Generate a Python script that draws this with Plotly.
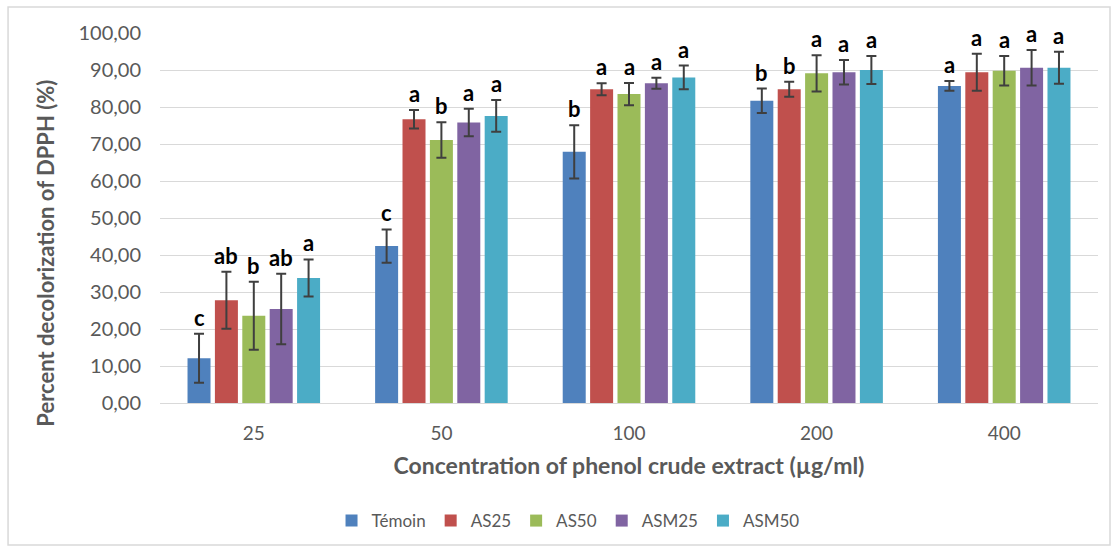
import plotly.graph_objects as go

# Concentration groups (µg/ml)
concentrations = ["25", "50", "100", "200", "400"]

# Mean % decolorization of DPPH per extract
temoin = [12.1, 42.4, 67.9, 81.7, 85.7]
as25 = [27.8, 76.7, 84.8, 84.8, 89.4]
as50 = [23.6, 71.1, 83.5, 89.1, 89.8]
asm25 = [25.4, 75.8, 86.4, 89.4, 90.6]
asm50 = [33.8, 77.6, 88.0, 90.0, 90.6]

# Standard deviations
temoin_err = [6.6, 4.5, 7.2, 3.3, 1.3]
as25_err = [7.7, 2.5, 1.6, 2.0, 5.0]
as50_err = [9.2, 4.8, 3.0, 4.9, 4.0]
asm25_err = [9.5, 3.7, 1.5, 3.3, 4.8]
asm50_err = [5.0, 4.3, 3.2, 3.8, 4.3]

# Significance letters
temoin_sig = ["c", "c", "b", "b", "a"]
as25_sig = ["ab", "a", "a", "b", "a"]
as50_sig = ["b", "b", "a", "a", "a"]
asm25_sig = ["ab", "a", "a", "a", "a"]
asm50_sig = ["a", "a", "a", "a", "a"]

series = [
    ("Témoin", temoin, temoin_err, temoin_sig, "#4F81BD"),
    ("AS25", as25, as25_err, as25_sig, "#C0504D"),
    ("AS50", as50, as50_err, as50_sig, "#9BBB59"),
    ("ASM25", asm25, asm25_err, asm25_sig, "#8064A2"),
    ("ASM50", asm50, asm50_err, asm50_sig, "#4BACC6"),
]

BARGAP = 0.27
slot = (1 - BARGAP) / len(series)

fig = go.Figure()
annotations = []
for i, (name, vals, errs, sigs, color) in enumerate(series):
    fig.add_trace(go.Bar(
        name=name, x=concentrations, y=vals, marker_color=color,
        marker_line_width=0,
        error_y=dict(type="data", array=errs, visible=True,
                     color="#3f3f3f", thickness=2, width=5),
    ))
    offset = (i - (len(series) - 1) / 2) * slot
    for j, (v, e, s) in enumerate(zip(vals, errs, sigs)):
        annotations.append(dict(
            x=j + offset, y=v + e, xref="x", yref="y", text=s,
            showarrow=False, yanchor="bottom", yshift=1,
            font=dict(family="Lato", size=22, color="black", weight="bold"),
        ))

annotations.append(dict(
    x=-0.122, y=0.405, xref="paper", yref="paper",
    text="Percent decolorization of DPPH (%)", textangle=-90,
    showarrow=False, xanchor="center", yanchor="middle",
    font=dict(family="Lato", size=22, color="#595959", weight="bold"),
))

fig.update_layout(
    width=1116, height=552,
    margin=dict(l=160, r=18, t=33, b=149),
    paper_bgcolor="white", plot_bgcolor="white",
    separators=",.",
    barmode="group", bargap=BARGAP, bargroupgap=0.16,
    font=dict(family="Lato", size=18, color="#595959"),
    annotations=annotations,
    legend=dict(orientation="h", x=0.435, y=-0.319, xanchor="center",
                yanchor="middle", font=dict(size=17, color="#595959"),
                itemwidth=30, traceorder="normal"),
    shapes=[dict(type="rect", xref="paper", yref="paper",
                 x0=-0.162, x1=1.0128, y0=-0.3838, y1=1.070,
                 line=dict(color="#d9d9d9", width=1.5), layer="below")],
)

fig.update_xaxes(
    type="category", showgrid=False, showline=False, zeroline=False,
    ticks="", tickfont=dict(size=19, color="#595959"),
    ticklabelstandoff=17,
    title=dict(text="Concentration of phenol crude extract (µg/ml)",
               font=dict(size=23, color="#595959", weight="bold"),
               standoff=14),
)
fig.update_yaxes(
    range=[0, 100], dtick=10, tickformat=".2f",
    showgrid=True, gridcolor="#d9d9d9", gridwidth=1,
    zeroline=True, zerolinecolor="#d9d9d9", zerolinewidth=1,
    showline=False, ticks="", ticklabelstandoff=18,
    tickfont=dict(size=20, color="#595959"),
)

fig.write_html("out.html")
